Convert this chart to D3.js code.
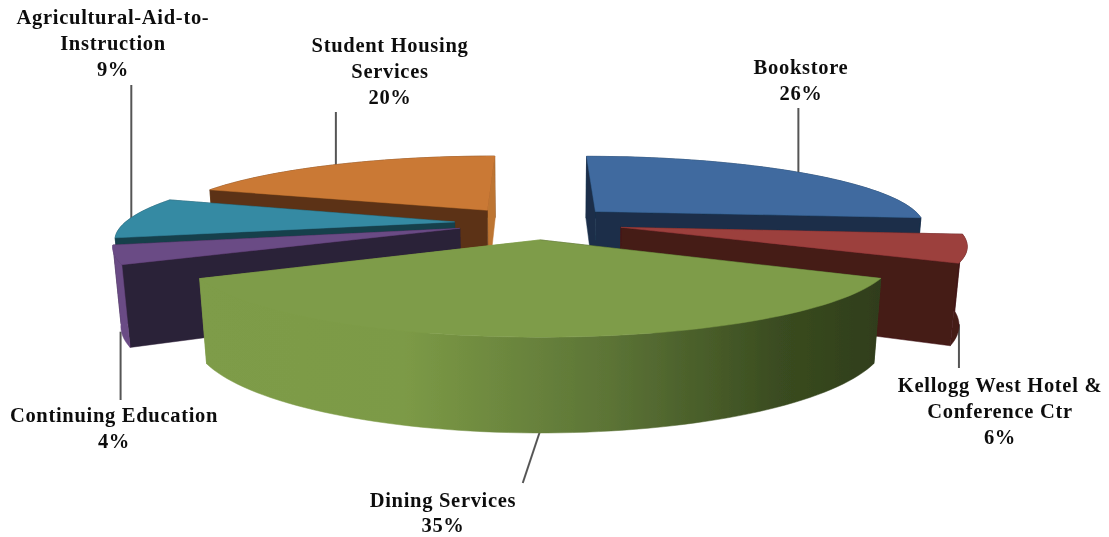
<!DOCTYPE html>
<html>
<head>
<meta charset="utf-8">
<script src="https://cdn.jsdelivr.net/npm/d3@7"></script>
<style>
  html, body { margin: 0; padding: 0; background: #fff; overflow: hidden; }
  text { font-family: "Liberation Serif", serif; font-weight: bold; font-size: 20.5px; letter-spacing: 0.7px; fill: #111; text-anchor: middle; }
</style>
</head>
<body>
<svg id="drawing_region"></svg>
<script>
const categories = ["Bookstore", "Kellogg West Hotel & Conference Ctr", "Dining Services", "Continuing Education", "Agricultural-Aid-to-Instruction", "Student Housing Services"];
const values = [26, 6, 35, 4, 9, 20];
const labelLines = [
    ["Bookstore", "26%"],
    ["Kellogg West Hotel &", "Conference Ctr", "6%"],
    ["Dining Services", "35%"],
    ["Continuing Education", "4%"],
    ["Agricultural-Aid-to-", "Instruction", "9%"],
    ["Student Housing", "Services", "20%"]
];
const explode = [0.23, 0.27, 0.23, 0.26, 0.26, 0.25];
// small per-slice pixel shifts, the picture's slices do not share one centre exactly
const nudge = [[1, 0], [-6, 0], [0, 1], [2, 0], [0, 1], [-7, 2]];

const topColors = ["#3f6b9f", "#9c3f3d", "#7e9c48", "#6a4b85", "#368aa3", "#ca7935"];
const startWall = ["#1a2f4a", "#451a18", "#33431c", "#2c2038", "#163f4c", "#5c3314"];
const endWall = ["#1a2f4a", "#451a18", "#7e9c48", "#2c2038", "#163f4c", "#bd7433"];
const outerWall = ["#1a2f4a", "#451a18", "url(#diningGrad)", "#6a4b85", "#163f4c", "#5c3314"];

// label anchor: centre x, first baseline, then where the leader stops
const labelAt = [[801, 74], [1000, 392], [443, 507], [114, 422], [113, 24], [390, 52]];
const labelStep = [26, 26, 25, 26, 26, 26];
const leaderEnd = [[0, 108], [0, 368], [-18, 483], [-2, 400], [0, 85], [0, 112]];
const leaderFromBottom = [false, true, true, true, false, false];

const width = 1109, height = 537;
const camera = 5; // perspective distance, in pie radii
const sink = 0.09; // how far the underside recedes from the camera
const twist = 0.03; // inner slices sit a little clockwise of twelve o'clock

const xscale = d3.scaleLinear().domain([0, 1]).range([540, 870]);
const yscale = d3.scaleLinear().domain([0, 1]).range([222, 292]);
const zscale = d3.scaleLinear().domain([0, 1]).range([0, 76]);

const svg = d3.select('#drawing_region')
    .attr('width', width)
    .attr('height', height);

const defs = svg.append('defs');
defs.append('filter').attr('id', 'soft')
    .append('feGaussianBlur').attr('stdDeviation', 0.55);
defs.append('filter').attr('id', 'softText')
    .append('feGaussianBlur').attr('stdDeviation', 0.6);

const grad = defs.append('linearGradient').attr('id', 'diningGrad')
    .attr('x1', '0%').attr('x2', '100%').attr('y1', '0%').attr('y2', '0%');
[[0, '#7e9c48'], [0.3, '#7c9a46'], [0.6, '#5c7436'], [0.85, '#3a4c20'], [1, '#2f3d1a']].forEach(s => {
    grad.append('stop').attr('offset', s[0]).attr('stop-color', s[1]);
});

const chart = svg.append('g').attr('filter', 'url(#soft)');

const pie = d3.pie().sort(null).startAngle(twist).endAngle(2 * Math.PI + twist);
const arcs = pie(values);
// the two slices that meet at the top still close on twelve o'clock
arcs[0].startAngle -= twist;
arcs[arcs.length - 1].endAngle -= twist;

function project(angle, r, z, d) {
    const mid = (d.startAngle + d.endAngle) / 2;
    const e = explode[d.index];
    const u = r * Math.sin(angle) + e * Math.sin(mid);
    const v = -r * Math.cos(angle) - e * Math.cos(mid);
    const s = camera / (camera - v + z * sink);
    return {
        x: xscale(u * s) + nudge[d.index][0],
        y: yscale(v * s) + zscale(z) * s + nudge[d.index][1],
        v: v
    };
}

const line = d3.line().x(p => p.x).y(p => p.y);

function arcAngles(d) {
    const n = Math.max(4, Math.round((d.endAngle - d.startAngle) / 0.03));
    return d3.range(n + 1).map(i => d.startAngle + (d.endAngle - d.startAngle) * i / n);
}

function faces(d) {
    const i = d.index;
    const angles = arcAngles(d);
    const wall = a => [project(a, 0, 0, d), project(a, 1, 0, d), project(a, 1, 1, d), project(a, 0, 1, d)];
    const outer = angles.map(a => project(a, 1, 0, d))
        .concat(angles.slice().reverse().map(a => project(a, 1, 1, d)));
    const list = [
        { pts: wall(d.startAngle), fill: startWall[i] },
        { pts: wall(d.endAngle), fill: endWall[i] },
        { pts: outer, fill: outerWall[i] }
    ];
    list.forEach(f => { f.depth = d3.mean(f.pts, p => p.v); });
    list.sort((a, b) => a.depth - b.depth);
    const top = [project(0, 0, 0, d)].concat(angles.map(a => project(a, 1, 0, d)));
    list.push({ pts: top, fill: topColors[i] });
    return list;
}

// leader lines sit behind the slices
chart.selectAll('line.leader').data(arcs).enter()
    .append('line')
    .attr('class', 'leader')
    .attr('stroke', '#555')
    .attr('stroke-width', 2)
    .each(function (d) {
        const mid = (d.startAngle + d.endAngle) / 2;
        const p = project(mid, 1, leaderFromBottom[d.index] ? 1 : 0, d);
        d3.select(this)
            .attr('x1', p.x + leaderEnd[d.index][0] * (d.index === 2 ? 0 : 1))
            .attr('y1', p.y - (leaderFromBottom[d.index] ? 4 : -4))
            .attr('x2', p.x + leaderEnd[d.index][0])
            .attr('y2', leaderEnd[d.index][1]);
    });

// far slices first
const ordered = arcs.slice().sort((a, b) =>
    Math.cos((b.startAngle + b.endAngle) / 2) - Math.cos((a.startAngle + a.endAngle) / 2));

const slices = chart.selectAll('g.slice').data(ordered).enter()
    .append('g')
    .attr('class', 'slice');

slices.selectAll('path').data(d => faces(d)).enter()
    .append('path')
    .attr('d', f => line(f.pts) + 'Z')
    .attr('fill', f => f.fill)
    .attr('stroke', f => f.fill)
    .attr('stroke-width', 0.5);

// labels
const labels = svg.append('g').attr('filter', 'url(#softText)')
    .selectAll('text.label').data(labelLines).enter()
    .append('text')
    .attr('class', 'label')
    .attr('aria-label', (d, i) => categories[i])
    .attr('x', (d, i) => labelAt[i][0])
    .attr('y', (d, i) => labelAt[i][1]);

labels.selectAll('tspan').data((d, i) => d.map(t => ({ t: t, i: i }))).enter()
    .append('tspan')
    .attr('x', d => labelAt[d.i][0])
    .attr('dy', (d, j) => j === 0 ? 0 : labelStep[d.i])
    .text(d => d.t);
</script>
</body>
</html>
